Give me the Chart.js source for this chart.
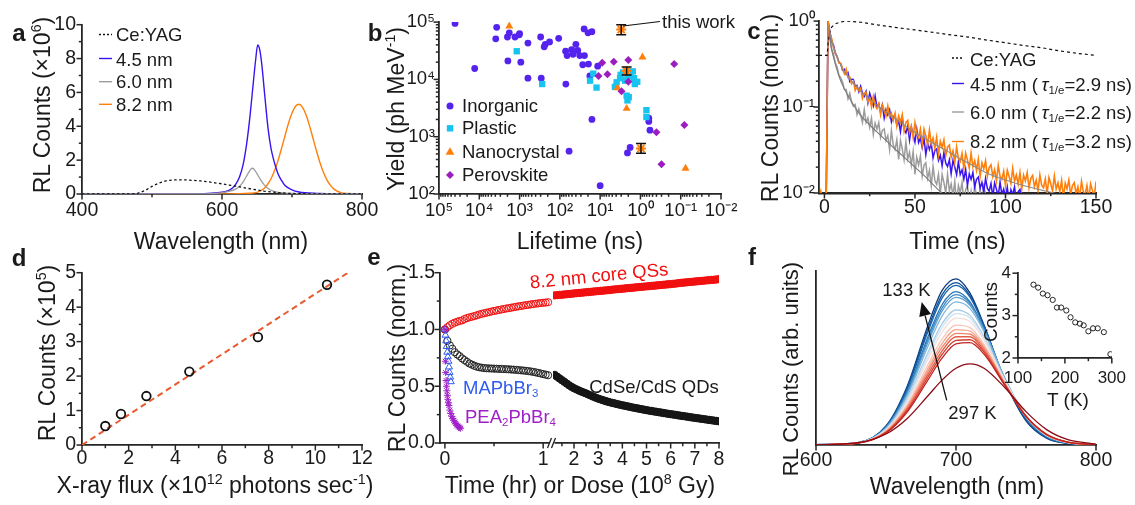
<!DOCTYPE html>
<html>
<head>
<meta charset="utf-8">
<title>Scintillation figure</title>
<script src="https://cdn.jsdelivr.net/npm/chart.js@4.4.1/dist/chart.umd.min.js"></script>
<style>
  html, body { margin:0; padding:0; background:#fff; }
  #fig { position:relative; width:1135px; height:505px; overflow:hidden;
         font-family:"Liberation Sans", Arial, Helvetica, sans-serif; color:#1a1a1a; background:#fff; }
  #fig canvas { position:absolute; }
  .t { position:absolute; white-space:nowrap; line-height:1; transform:translate(-50%,-50%); }
  .tl { transform:translate(0,-50%); }
  .rot { transform:translate(-50%,-50%) rotate(-90deg); }
  .t sup { font-size:0.62em; vertical-align:0.62em; line-height:0; }
  .t sub { font-size:0.62em; vertical-align:-0.3em; line-height:0; }
  .L { font-weight:bold; }
  #deco { position:absolute; left:0; top:0; }
</style>
</head>
<body>
<div id="fig"></div>
<script>
// ===================== DATA =====================
// ---- Panel a : RL spectra (counts x1e6) ----
const aWlYag    = [400,470,480,490,500,510,520,530,540,550,560,570,580,590,600,610,620,630,640,650,660,670,680,690,700,720,740,800];
const aYag      = [0,0,0.05,0.2,0.45,0.65,0.78,0.83,0.84,0.83,0.8,0.77,0.72,0.66,0.6,0.53,0.46,0.38,0.31,0.24,0.17,0.12,0.08,0.05,0.03,0.01,0,0];
const aWlBlue   = [400,560,580,600,610,615,620,625,630,635,640,645,648,651,654,657,660,663,666,670,673,676,680,685,690,700,710,720,740,760,800];
const aBlue     = [0,0,0.03,0.1,0.22,0.35,0.6,1.0,1.7,2.9,4.6,6.7,7.9,8.8,8.5,7.6,6.3,5.0,3.8,2.7,2.15,1.7,1.2,0.8,0.5,0.25,0.12,0.07,0.03,0.01,0];
const aWlGray   = [400,560,590,610,620,625,630,635,640,643,646,650,655,660,665,670,680,700,730,800];
const aGray     = [0,0,0.03,0.15,0.3,0.45,0.7,1.05,1.4,1.52,1.45,1.2,0.85,0.55,0.35,0.22,0.1,0.03,0,0];
const aWlOrange = [400,600,640,650,660,665,670,675,680,685,690,695,700,705,710,715,720,725,730,735,740,745,750,755,760,770,780,800];
const aOrange   = [0,0,0.04,0.1,0.33,0.56,0.9,1.37,1.97,2.69,3.44,4.18,4.78,5.18,5.3,5.12,4.68,4.04,3.29,2.54,1.85,1.27,0.82,0.51,0.29,0.08,0.03,0.01];
const aXTicks = [400,600,800], aXLabels = ['400','600','800'];
const aYTicks = [0,2,4,6,8,10], aYLabels = ['0','2','4','6','8','10'];

// ---- Panel b : light yield vs lifetime ----
const bInorgLife  = [40000,13000,3700,3900,2000,1800,1950,1300,1020,1000,930,620,620,300,290,230,245,180,107,71,72,66,59,51,47,40,36,32,25,24.5,27,19.5,20,16,18,16,11.5,10,2.1,1.8,0.62,0.62,0.58];
const bInorgYield = [95000,15500,81000,51000,55000,65000,21000,55000,60000,63000,20000,43000,10500,55000,10500,41000,37000,45000,52000,8300,31000,26000,560,33000,27500,41000,32000,26000,76000,26000,18000,18500,65000,68000,11500,2000,17000,140,520,650,2100,1850,1300];
const bPlastLife  = [1175,275,17.8,14.8,12.3,4.3,3.2,3.1,2.7,2.4,2.1,1.8,1.55,1.45,1.38,1.2,2.2,1.95,2.1,0.71,0.71,3.9];
const bPlastYield = [31000,8300,9500,12600,7200,7400,10500,12000,13200,9500,11000,11500,13800,10500,8300,9100,5200,4900,4300,2900,2200,8900];
const bNanoLife   = [1800,3.7,2.2,0.89,0.076];
const bNanoYield  = [85000,7100,3100,24500,280];
const bPeroLife   = [8.9,11,6.6,4.6,2.95,2.0,2.0,0.4,0.3,0.145,0.081];
const bPeroYield  = [19500,11500,12300,20400,6200,21900,9100,1200,330,18600,1600];
const bWorkLife   = [3.0,2.2,0.97];
const bWorkYield  = [74000,14000,624];
const bWorkLo     = [60000,11900,513];
const bWorkHi     = [90000,16500,760];
const bXTicks = [1e5,1e4,1e3,1e2,1e1,1e0,1e-1,1e-2];
const bXLabels = ['10\u2075','10\u2074','10\u00b3','10\u00b2','10\u00b9','10\u2070','10\u207b\u00b9','10\u207b\u00b2'];
const bYTicks = [1e2,1e3,1e4,1e5];
const bYLabels = ['10\u00b2','10\u00b3','10\u2074','10\u2075'];

// ---- Panel c : RL decay (normalised) ----
const tC = [-4,-3,-2,-1,0,1,2,3,4,5,6,7,8,9,10,11,12,13,14,15,16,17,18,19,20,
  21,22,23,24,25,26,27,28,29,30,31,32,33,34,35,36,37,38,39,40,41,42,43,44,45,46,47,48,49,50,
  51,52,53,54,55,56,57,58,59,60,61,62,63,64,65,66,67,68,69,70,71,72,73,74,75,76,77,78,79,80,
  81,82,83,84,85,86,87,88,89,90,91,92,93,94,95,96,97,98,99,100,101,102,103,104,105,106,107,108,109,110,
  111,112,113,114,115,116,117,118,119,120,121,122,123,124,125,126,127,128,129,130,131,132,133,134,135,136,137,138,139,140,
  141,142,143,144,145,146,147,148,149,150];
const cOrange = [0.0115,0.0085,0.0105,0.0085,0.009,0.009,
  1.0,0.723,0.626,0.495,0.421,0.389,0.326,0.321,0.281,
  0.244,0.277,0.221,0.224,0.187,0.200,0.156,0.174,0.156,0.165,
  0.126,0.145,0.148,0.115,0.127,0.100,0.133,0.104,0.0957,0.110,
  0.0815,0.106,0.092,0.078,0.103,0.0768,0.0851,0.0699,0.0846,0.0602,
  0.0788,0.0667,0.0817,0.0527,0.0661,0.0699,0.0503,0.0601,0.0441,0.0658,
  0.0491,0.0445,0.0555,0.0367,0.0551,0.046,0.0364,0.054,0.0374,0.0435,
  0.0334,0.0447,0.028,0.04,0.0338,0.0415,0.0272,0.0341,0.0361,0.026,
  0.0308,0.0228,0.0343,0.0253,0.0231,0.0288,0.0193,0.029,0.0241,0.0195,
  0.0291,0.0202,0.0237,0.0183,0.0247,0.0156,0.0224,0.0191,0.0237,0.0157,
  0.0198,0.0213,0.0155,0.0186,0.0138,0.021,0.0156,0.0144,0.0179,0.0121,
  0.0184,0.0156,0.0129,0.0194,0.0137,0.0162,0.0127,0.0173,0.0111,0.0161,
  0.0138,0.0173,0.0115,0.0148,0.016,0.0118,0.0141,0.0107,0.0163,0.0123,
  0.0115,0.0145,0.0099,0.0151,0.0128,0.0105,0.0158,0.0111,0.0132,0.0103,
  0.014,0.0089,0.013,0.0112,0.0142,0.0095,0.0122,0.0132,0.0098,0.0118,
  0.0089,0.0137,0.0104,0.0097,0.0122,0.0084,0.0128,0.0108,0.009,0.0136];
const cBlue = [0.0108,0.0085,0.0095,0.0085,0.009,0.009,
  1.0,0.753,0.583,0.526,0.423,0.386,0.331,0.32,0.268,
  0.275,0.241,0.253,0.198,0.211,0.21,0.174,0.179,0.151,0.175,
  0.145,0.133,0.152,0.112,0.145,0.124,0.104,0.135,0.1,0.109,
  0.0878,0.106,0.0742,0.0934,0.081,0.0928,0.0671,0.0776,0.0795,0.0615,
  0.0688,0.0517,0.0738,0.0551,0.05,0.0599,0.0412,0.0584,0.0485,0.0391,
  0.0552,0.0386,0.0436,0.0338,0.0432,0.0279,0.0378,0.032,0.038,0.0256,
  0.0312,0.0325,0.0239,0.0275,0.0207,0.0296,0.0222,0.0203,0.0243,0.0168,
  0.024,0.02,0.0163,0.0232,0.0164,0.0186,0.0145,0.0188,0.0122,0.0167,
  0.0144,0.0173,0.0118,0.0144,0.0153,0.0114,0.0133,0.0102,0.0148,0.0113,
  0.0105,0.0129,0.009,0.0131,0.0111,0.0092,0.0134,0.0096,0.0111,0.0089,
  0.0117,0.0078,0.0109,0.0096,0.0118,0.0081,0.0103,0.011,0.0084,0.0101];
const cGray = [0.009,0.009,0.009,0.009,0.009,0.009,
  1.0,0.671,0.478,0.408,0.328,0.291,0.237,0.218,0.196,
  0.16,0.16,0.125,0.145,0.114,0.102,0.107,0.0818,0.0953,0.081,
  0.0662,0.0932,0.0658,0.0745,0.0579,0.0742,0.048,0.0649,0.0553,0.066,
  0.0444,0.0536,0.0558,0.0408,0.0466,0.0319,0.0534,0.0363,0.0321,0.0417,
  0.0246,0.0411,0.0324,0.0243,0.0396,0.0248,0.0298,0.0211,0.0304,0.0165,
  0.0261,0.0211,0.027,0.0157,0.021,0.0225,0.0148,0.0183,0.0122,0.0204,
  0.014,0.0126,0.0165,0.0098,0.0164,0.0132,0.01,0.0165,0.0105,0.0128,
  0.0092,0.0136,0.0075,0.0122,0.0101,0.0133,0.0079,0.0109,0.0121,0.0082,
  0.0105,0.0073,0.0127,0.009,0.0083,0.0112,0.0068,0.0119,0.0097,0.0076];
const cFitT  = [2.5,3,5,8,10,15,20,25,30,40,50,60,70,75,80,90,100,110,120,125,130];
const cFitO  = [0.9,0.75,0.5,0.34,0.28,0.2,0.153,0.124,0.101,0.071,0.051,0.038,0.029,0.025,0.022,0.017,0.0142,0.0122,0.0108,0.0102,0.0096];
const cFitGT = [2.5,3,5,8,10,15,20,25,30,35,40,45,50,55,60,65,70];
const cFitG  = [0.85,0.62,0.38,0.23,0.18,0.115,0.08,0.062,0.049,0.039,0.031,0.025,0.02,0.016,0.0125,0.0099,0.008];
const cYagT  = [-3,1.5,2,3,4,6,9,13,20,30,40,50,60,70,80,90,100,110,120,130,140,150];
const cYag   = [0.4,0.4,0.55,0.75,0.85,0.93,0.98,1.0,0.97,0.9,0.84,0.79,0.74,0.69,0.65,0.6,0.56,0.52,0.49,0.45,0.42,0.40];
const cXTicks = [0,50,100,150], cXLabels = ['0','50','100','150'];
const cYTicks = [0.01,0.1,1], cYLabels = ['10\u207b\u00b2','10\u207b\u00b9','10\u2070'];

// ---- Panel d : flux linearity ----
const dFlux   = [1.0,1.67,2.76,4.6,7.54,10.5];
const dCounts = [0.55,0.9,1.42,2.13,3.13,4.65];
const dFitX   = [0,11.4];
const dFitY   = [0,5.0];
const dXTicks = [0,2,4,6,8,10,12], dXLabels = ['0','2','4','6','8','10','12'];
const dYTicks = [0,1,2,3,4,5], dYLabels = ['0','1','2','3','4','5'];

// ---- Panel e : stability ----
const eTimeL  = [0,0.025,0.05,0.075,0.1,0.125,0.15,0.175,0.2,0.225,0.25,0.275,0.3,0.325,0.35,0.375,0.4,0.425,0.45,0.475,0.5,0.525,0.55,0.575,0.6,0.625,0.65,0.675,0.7,0.725,0.75,0.775,0.8,0.825,0.85,0.875,0.9,0.925,0.95,0.975,1.0,1.025,1.05];
const eRedL   = [1.0,1.02,1.037,1.05,1.06,1.068,1.075,1.08,1.092,1.1,1.107,1.112,1.118,1.125,1.132,1.138,1.143,1.148,1.153,1.158,1.163,1.167,1.172,1.176,1.18,1.185,1.188,1.192,1.196,1.2,1.204,1.207,1.211,1.214,1.217,1.221,1.224,1.227,1.23,1.233,1.235,1.237,1.24];
const eBlackL = [1.0,0.9,0.86,0.83,0.8,0.78,0.765,0.745,0.73,0.715,0.7,0.69,0.68,0.672,0.667,0.663,0.66,0.658,0.657,0.656,0.655,0.654,0.653,0.652,0.651,0.65,0.649,0.647,0.646,0.644,0.642,0.64,0.638,0.636,0.633,0.63,0.626,0.622,0.617,0.612,0.607,0.602,0.597];
const eMapT   = [0,0.006,0.012,0.018,0.024,0.03,0.036,0.042,0.048,0.054,0.06];
const eMap    = [1.0,0.95,0.9,0.85,0.8,0.76,0.72,0.67,0.62,0.58,0.54];
const ePeaT   = [0,0.004,0.008,0.012,0.016,0.02,0.025,0.03,0.035,0.04,0.05,0.06,0.07,0.08,0.09,0.1,0.11,0.12,0.13,0.14,0.15,0.16];
const ePea    = [1.0,0.72,0.62,0.55,0.5,0.46,0.42,0.385,0.355,0.33,0.29,0.26,0.235,0.215,0.2,0.185,0.172,0.16,0.15,0.142,0.135,0.13];
const eDose   = [1.2,1.3,1.4,1.5,1.6,1.7,1.8,1.9,2.0,2.1,2.2,2.3,2.4,2.5,2.6,2.7,2.8,2.9,3.0,3.1,3.2,3.3,3.4,3.5,3.6,3.7,3.8,3.9,4.0,
  4.1,4.2,4.3,4.4,4.5,4.6,4.7,4.8,4.9,5.0,5.1,5.2,5.3,5.4,5.5,5.6,5.7,5.8,5.9,6.0,6.1,6.2,6.3,6.4,6.5,6.6,6.7,6.8,6.9,7.0,
  7.1,7.2,7.3,7.4,7.5,7.6,7.7,7.8,7.9,8.0];
const eRedR   = [1.280,1.282,1.284,1.286,1.288,1.290,1.292,1.294,1.297,1.299,1.301,1.303,1.305,1.307,1.309,1.311,1.313,1.315,1.317,
  1.319,1.321,1.323,1.325,1.327,1.330,1.332,1.334,1.336,1.338,1.340,1.342,1.344,1.346,1.348,1.350,1.352,1.354,1.356,1.358,
  1.360,1.362,1.364,1.366,1.368,1.370,1.372,1.374,1.376,1.378,1.380,1.382,1.385,1.388,1.390,1.392,1.394,1.396,1.398,1.400,
  1.402,1.404,1.406,1.408,1.410,1.412,1.414,1.416,1.418,1.420];
const eBlackR = [0.590,0.575,0.560,0.545,0.530,0.515,0.500,0.487,0.475,0.465,0.455,0.446,0.438,0.430,0.420,0.411,0.402,0.393,0.385,
  0.378,0.371,0.364,0.358,0.352,0.347,0.342,0.337,0.332,0.327,0.323,0.318,0.314,0.309,0.305,0.301,0.297,0.293,0.289,0.285,
  0.281,0.278,0.274,0.271,0.267,0.264,0.260,0.257,0.253,0.250,0.247,0.244,0.240,0.237,0.234,0.231,0.228,0.224,0.221,0.218,
  0.215,0.212,0.209,0.206,0.203,0.200,0.197,0.194,0.191,0.188];
const eYTicks = [0,0.5,1,1.5], eYLabels = ['0.0','0.5','1.0','1.5'];
const eXTicksL = [0,1], eXLabelsL = ['0','1'];
const eXTicksR = [2,3,4,5,6,7,8], eXLabelsR = ['2','3','4','5','6','7','8'];

// ---- Panel f : temperature-dependent spectra ----
const fWl = [600,630,650,665,680,690,700,710,720,735,750,765,780,800];
const fSpectra = [
  [0.002,0.013,0.109,0.335,0.689,0.887,0.955,0.873,0.690,0.366,0.139,0.038,0.010,0.001],
  [0.002,0.013,0.107,0.326,0.668,0.863,0.933,0.859,0.685,0.370,0.145,0.041,0.010,0.001],
  [0.002,0.0135,0.105,0.319,0.652,0.844,0.917,0.850,0.683,0.376,0.151,0.044,0.011,0.001],
  [0.002,0.013,0.101,0.304,0.622,0.806,0.881,0.822,0.667,0.373,0.153,0.046,0.012,0.001],
  [0.002,0.013,0.100,0.297,0.606,0.787,0.864,0.813,0.664,0.377,0.158,0.049,0.013,0.001],
  [0.002,0.013,0.098,0.290,0.590,0.769,0.848,0.803,0.662,0.382,0.162,0.051,0.013,0.001],
  [0.002,0.013,0.095,0.280,0.568,0.741,0.822,0.784,0.651,0.381,0.165,0.053,0.014,0.001],
  [0.002,0.013,0.090,0.263,0.532,0.696,0.776,0.745,0.624,0.370,0.163,0.053,0.014,0.0015],
  [0.002,0.013,0.088,0.254,0.514,0.674,0.755,0.730,0.616,0.370,0.166,0.055,0.015,0.0016],
  [0.002,0.0126,0.085,0.244,0.493,0.648,0.729,0.710,0.604,0.368,0.167,0.056,0.015,0.0016],
  [0.0015,0.012,0.081,0.229,0.462,0.608,0.689,0.675,0.578,0.357,0.164,0.056,0.015,0.0016],
  [0.0014,0.012,0.078,0.220,0.441,0.583,0.663,0.654,0.565,0.353,0.164,0.057,0.015,0.0017],
  [0.0013,0.012,0.076,0.212,0.424,0.561,0.642,0.638,0.555,0.350,0.165,0.058,0.015,0.0017],
  [0.0013,0.0116,0.073,0.204,0.407,0.540,0.622,0.622,0.544,0.348,0.165,0.058,0.016,0.0017],
  [0.0012,0.0115,0.071,0.196,0.391,0.520,0.601,0.605,0.534,0.345,0.166,0.059,0.016,0.0018],
  [0.0012,0.0113,0.069,0.188,0.374,0.499,0.581,0.588,0.522,0.341,0.165,0.060,0.016,0.0018],
  [0.001,0.0133,0.063,0.151,0.283,0.373,0.441,0.466,0.441,0.329,0.192,0.087,0.031,0.005]];
const fColors = ['#0b3a7e','#104f95','#1763ab','#2474b7','#3c89c2','#5b9fcf','#80b6dd','#a7cde7','#cfe2ef','#f1dede',
  '#f8c6b6','#f5a58d','#ef8268','#e35e48','#d43e2e','#c02420','#8a0c16'];
const fXTicks = [600,700,800], fXLabels = ['600','700','800'];
const fInsetT = [133,143,153,163,174,183,192,203,212,222,232,240,250,260,270,283,297];
const fInsetCounts = [3.73,3.66,3.52,3.48,3.37,3.19,3.19,3.12,2.96,2.84,2.81,2.77,2.63,2.70,2.70,2.61,2.09];
const fInXTicks = [100,200,300], fInXLabels = ['100','200','300'];
const fInYTicks = [2,3,4], fInYLabels = ['2','3','4'];

// ===================== HELPERS =====================
const FONT = '"Liberation Sans", Arial, Helvetica, sans-serif';
const INK = '#1a1a1a', AXIS = '#262626';
const BLUE = '#3a14f0', ORANGE = '#ff7f0a', GRAY = '#9c9c9c';
Chart.defaults.font.family = FONT;
Chart.defaults.color = INK;
const fig = document.getElementById('fig');
const xy = (xs, ys) => ys.map((y, i) => ({x: xs[i], y}));
const PADS = {PL:70, PT:14, PR:26, PB:44};

function mk(area, p) {
  const [l, t, r, b] = area;
  const c = document.createElement('canvas');
  const w = r - l + p.PL + p.PR, h = b - t + p.PT + p.PB;
  c.width = w; c.height = h;
  Object.assign(c.style, {left:(l - p.PL) + 'px', top:(t - p.PT) + 'px', width:w + 'px', height:h + 'px'});
  fig.appendChild(c);
  return c;
}
function sc(o) {
  return {
    type: o.type || 'linear', min: o.min, max: o.max, reverse: !!o.reverse, bounds: 'data', display: true,
    afterFit: s => { if (o.horiz) s.height = o.fit; else s.width = o.fit; },
    afterBuildTicks: s => { s.ticks = (o.ticks || []).map(v => ({value: v})); },
    ticks: { display: !!o.labels, autoSkip: false, maxRotation: 0, minRotation: 0, padding: o.pad ?? 5,
             font: {family: FONT, size: o.size || 19.5}, color: INK,
             callback: (v, i) => (o.labels ? o.labels[i] : '') },
    grid: { display: false, drawTicks: false },
    border: { display: o.border !== false, color: AXIS, width: o.bw || 1.8 }
  };
}
function tickPlug(spec) {
  return { id: 'tk', afterDraw(chart) {
    const ctx = chart.ctx, ca = chart.chartArea;
    ctx.save(); ctx.strokeStyle = AXIS; ctx.lineWidth = 1.5;
    for (const id of Object.keys(spec)) {
      const s = chart.scales[id], d = spec[id], horiz = s.isHorizontal();
      const draw = (v, len) => {
        const p = s.getPixelForValue(v);
        ctx.beginPath();
        if (horiz) { ctx.moveTo(p, ca.bottom); ctx.lineTo(p, ca.bottom + len); }
        else { ctx.moveTo(ca.left, p); ctx.lineTo(ca.left - len, p); }
        ctx.stroke();
      };
      (d.major || []).forEach(v => draw(v, d.ml || 5.5));
      (d.minor || []).forEach(v => draw(v, d.nl || 3.2));
    }
    ctx.restore();
  }};
}
function chart(area, p, datasets, xs, ys, spec, extraPlugins) {
  const cv = mk(area, p);
  return new Chart(cv, {
    type: 'line',
    data: { datasets },
    options: {
      responsive: false, animation: false, devicePixelRatio: 1, events: [],
      layout: { padding: {left: 0, top: p.PT, right: p.PR, bottom: 0} },
      plugins: { legend: {display: false}, tooltip: {enabled: false} },
      elements: { point: {radius: 0}, line: {borderWidth: 1.4, fill: false, tension: 0} },
      scales: { x: sc(Object.assign({horiz: true, fit: p.PB}, xs)),
                y: sc(Object.assign({horiz: false, fit: p.PL}, ys)) }
    },
    plugins: [tickPlug(spec)].concat(extraPlugins || [])
  });
}
function logMinor(lo, hi) { const out = []; for (let e = lo; e < hi; e++) for (let k = 2; k <= 9; k++) out.push(k * Math.pow(10, e)); return out; }

// ===================== PANEL a =====================
chart([82, 21, 362, 194], PADS, [
  {data: xy(aWlYag, aYag), borderColor: '#111', borderWidth: 1.3, borderDash: [2.5, 2.5]},
  {data: xy(aWlGray, aGray), borderColor: GRAY, borderWidth: 1.3, cubicInterpolationMode: 'monotone'},
  {data: xy(aWlBlue, aBlue), borderColor: BLUE, borderWidth: 1.4, cubicInterpolationMode: 'monotone'},
  {data: xy(aWlOrange, aOrange), borderColor: ORANGE, borderWidth: 1.4, cubicInterpolationMode: 'monotone'}
], {min: 400, max: 800, ticks: aXTicks, labels: aXLabels, pad: 5},
   {min: 0, max: 10, ticks: aYTicks, labels: aYLabels, pad: 6},
   {x: {major: aXTicks, minor: [500, 700]}, y: {major: aYTicks, minor: [1, 3, 5, 7, 9]}});

// ===================== PANEL b =====================
const errPlug = { id: 'eb', afterDatasetsDraw(ch) {
  const ctx = ch.ctx, xs = ch.scales.x, ys = ch.scales.y;
  ctx.save(); ctx.strokeStyle = '#111'; ctx.lineWidth = 1.4;
  bWorkLife.forEach((L, i) => {
    const x = xs.getPixelForValue(L), y1 = ys.getPixelForValue(bWorkLo[i]), y2 = ys.getPixelForValue(bWorkHi[i]);
    ctx.beginPath(); ctx.moveTo(x, y1); ctx.lineTo(x, y2);
    ctx.moveTo(x - 5, y1); ctx.lineTo(x + 5, y1); ctx.moveTo(x - 5, y2); ctx.lineTo(x + 5, y2);
    ctx.stroke();
  });
  ctx.restore();
}};
chart([439, 21, 721, 194], PADS, [
  {data: xy(bWorkLife, bWorkYield), showLine: false, pointStyle: 'star', pointRadius: 5, pointBorderColor: ORANGE, pointBorderWidth: 2},
  {data: xy(bPeroLife, bPeroYield), showLine: false, pointStyle: 'rectRot', pointRadius: 4, pointBackgroundColor: '#9b1dc0', pointBorderColor: '#9b1dc0', pointBorderWidth: 0},
  {data: xy(bNanoLife, bNanoYield), showLine: false, pointStyle: 'triangle', pointRadius: 4.6, pointBackgroundColor: ORANGE, pointBorderColor: ORANGE, pointBorderWidth: 0},
  {data: xy(bPlastLife, bPlastYield), showLine: false, pointStyle: 'rect', pointRadius: 4.5, pointBackgroundColor: '#17c3ef', pointBorderColor: '#17c3ef', pointBorderWidth: 0},
  {data: xy(bInorgLife, bInorgYield), showLine: false, pointStyle: 'circle', pointRadius: 3.4, pointBackgroundColor: '#5523ee', pointBorderColor: '#5523ee', pointBorderWidth: 0}
], {type: 'logarithmic', min: 1e-2, max: 1e5, reverse: true, ticks: bXTicks, labels: bXLabels, pad: 6, size: 18.5},
   {type: 'logarithmic', min: 1e2, max: 1e5, ticks: bYTicks, labels: bYLabels, pad: 4, size: 18.5},
   {x: {major: bXTicks, minor: logMinor(-2, 5), nl: 2.8}, y: {major: bYTicks, minor: logMinor(2, 5)}}, [errPlug]);

// ===================== PANEL c =====================
chart([819, 20, 1096, 193], PADS, [
  {data: xy(cFitT, cFitO), borderColor: '#8c8c8c', borderWidth: 1.1, cubicInterpolationMode: 'monotone'},
  {data: xy(cFitGT, cFitG), borderColor: '#7a7a7a', borderWidth: 1.1, cubicInterpolationMode: 'monotone'},
  {data: xy(cYagT, cYag), borderColor: '#111', borderWidth: 1.2, borderDash: [3, 3]},
  {data: xy(tC, cOrange), borderColor: ORANGE, borderWidth: 1.6},
  {data: xy(tC, cBlue), borderColor: BLUE, borderWidth: 1.5},
  {data: xy(tC, cGray), borderColor: GRAY, borderWidth: 1.5}
], {min: -3, max: 150, ticks: cXTicks, labels: cXLabels, pad: 3, bw: 2.6},
   {type: 'logarithmic', min: 0.01, max: 1, ticks: cYTicks, labels: cYLabels, pad: 4, size: 18.5},
   {x: {major: cXTicks, minor: [25, 75, 125]}, y: {major: cYTicks, minor: logMinor(-2, 0)}});

// ===================== PANEL d =====================
chart([82, 269, 362, 445], PADS, [
  {data: xy(dFlux, dCounts), showLine: false, pointRadius: 4.3, pointBorderWidth: 1.8, pointBorderColor: '#111', pointBackgroundColor: 'rgba(0,0,0,0)'},
  {data: xy(dFitX, dFitY), borderColor: '#ea5a30', borderWidth: 2, borderDash: [6, 4]}
], {min: 0, max: 12, ticks: dXTicks, labels: dXLabels, pad: 2},
   {min: 0, max: 5, ticks: dYTicks, labels: dYLabels, pad: 6},
   {x: {major: dXTicks, minor: [1, 3, 5, 7, 9, 11]}, y: {major: dYTicks, minor: [0.5, 1.5, 2.5, 3.5, 4.5]}});

// ===================== PANEL e (broken axis: two scales) =====================
chart([440, 270, 553, 443], PADS, [
  {data: xy(ePeaT, ePea), showLine: false, pointStyle: 'star', pointRadius: 3.5, pointBorderColor: '#a020c8', pointBorderWidth: 1},
  {data: xy(eMapT, eMap), showLine: false, pointStyle: 'triangle', pointRadius: 4, pointBorderColor: '#2e5bf0', pointBackgroundColor: 'rgba(0,0,0,0)', pointBorderWidth: 1},
  {data: xy(eTimeL, eRedL), showLine: false, pointRadius: 3.6, pointBorderColor: '#f01010', pointBackgroundColor: 'rgba(0,0,0,0)', pointBorderWidth: 1},
  {data: xy(eTimeL, eBlackL), showLine: false, pointRadius: 3.6, pointBorderColor: '#222', pointBackgroundColor: 'rgba(0,0,0,0)', pointBorderWidth: 1}
], {min: -0.05, max: 1.1, ticks: eXTicksL, labels: eXLabelsL, pad: 5},
   {min: 0, max: 1.5, ticks: eYTicks, labels: eYLabels, pad: 5},
   {x: {major: eXTicksL, minor: [0.5]}, y: {major: eYTicks, minor: [0.25, 0.75, 1.25]}});
chart([553, 270, 719, 443], PADS, [
  {data: xy(eDose, eRedR), showLine: false, pointRadius: 3.7, pointBorderColor: '#f01010', pointBackgroundColor: '#f01010', pointBorderWidth: 1},
  {data: xy(eDose, eBlackR), showLine: false, pointRadius: 3.7, pointBorderColor: '#161616', pointBackgroundColor: '#161616', pointBorderWidth: 1}
], {min: 1.13, max: 8, ticks: eXTicksR, labels: eXLabelsR, pad: 5},
   {min: 0, max: 1.5, ticks: [], labels: null, border: false},
   {x: {major: eXTicksR, minor: [1.5, 2.5, 3.5, 4.5, 5.5, 6.5, 7.5]}});

// ===================== PANEL f =====================
chart([816, 271, 1096, 445], PADS,
  fSpectra.map((s, i) => ({data: xy(fWl, s), borderColor: fColors[i], borderWidth: 1.3, cubicInterpolationMode: 'monotone'})).reverse(),
  {min: 600, max: 800, ticks: fXTicks, labels: fXLabels, pad: 4},
  {min: 0, max: 1, ticks: [], labels: null},
  {x: {major: fXTicks, minor: [650, 750]}});
const PIN = {PL:40, PT:10, PR:14, PB:34};
chart([1018, 266, 1122, 358], PIN, [
  {data: xy(fInsetT, fInsetCounts), showLine: false, pointRadius: 2.6, pointBorderWidth: 1, pointBorderColor: '#222', pointBackgroundColor: 'rgba(0,0,0,0)'}
], {min: 100, max: 300, ticks: fInXTicks, labels: fInXLabels, pad: 10, size: 17},
   {min: 2, max: 4, ticks: fInYTicks, labels: fInYLabels, pad: 7, size: 17},
   {x: {major: fInXTicks, minor: [150, 250]}, y: {major: fInYTicks, minor: [2.5, 3.5]}});

// ===================== DECORATION (SVG) =====================
const NS = 'http://www.w3.org/2000/svg';
const svg = document.createElementNS(NS, 'svg');
svg.setAttribute('id', 'deco'); svg.setAttribute('width', 1135); svg.setAttribute('height', 505);
fig.appendChild(svg);
function ln(x1, y1, x2, y2, c, w, dash) {
  const e = document.createElementNS(NS, 'line');
  e.setAttribute('x1', x1); e.setAttribute('y1', y1); e.setAttribute('x2', x2); e.setAttribute('y2', y2);
  e.setAttribute('stroke', c); e.setAttribute('stroke-width', w); if (dash) e.setAttribute('stroke-dasharray', dash);
  svg.appendChild(e);
}
function shape(tag, attrs) {
  const e = document.createElementNS(NS, tag);
  for (const k in attrs) e.setAttribute(k, attrs[k]);
  svg.appendChild(e);
}
// legend a
ln(99, 34.5, 112, 34.5, '#111', 1.3, '2,2');
ln(99, 58.5, 112, 58.5, BLUE, 1.4);
ln(99, 81.7, 112, 81.7, GRAY, 1.4);
ln(99, 104.3, 112, 104.3, ORANGE, 1.4);
// legend b symbols
shape('circle', {cx: 450, cy: 106, r: 3.5, fill: '#5523ee'});
shape('rect', {x: 446.8, y: 125.1, width: 6.4, height: 6.4, fill: '#17c3ef'});
shape('polygon', {points: '450,147.3 454.4,154.8 445.6,154.8', fill: ORANGE});
shape('polygon', {points: '450,171 454,175 450,179 446,175', fill: '#9b1dc0'});
// leader line "this work"
ln(623, 26, 660, 21.5, '#111', 1.1);
// legend c
ln(952, 58, 964, 58, '#111', 1.3, '2,2');
ln(952, 83.5, 964, 83.5, BLUE, 1.4);
ln(952, 112, 964, 112, GRAY, 1.4);
ln(952, 141.5, 964, 141.5, ORANGE, 1.4);
// axis break e
shape('rect', {x: 549.5, y: 440, width: 5, height: 5, fill: '#fff'});
ln(547.5, 448, 551.5, 438, '#222', 1.3);
ln(551.5, 448, 555.5, 438, '#222', 1.3);
// arrow f
ln(946.7, 400.3, 925.1, 315.6, '#111', 1.3);
shape('polygon', {points: '921.7,302 931,314.1 919.3,317.1', fill: '#111'});

// ===================== TEXT =====================
function T(html, x, y, size, cls, extra) {
  const d = document.createElement('div');
  d.className = 't ' + (cls || '');
  d.innerHTML = html;
  d.style.left = x + 'px'; d.style.top = y + 'px'; d.style.fontSize = size + 'px';
  if (extra) Object.assign(d.style, extra);
  fig.appendChild(d);
}
// panel letters
T('a', 19, 32.5, 24, 'L'); T('b', 375, 33, 24, 'L'); T('c', 754, 30.5, 24, 'L');
T('d', 19, 258, 24, 'L'); T('e', 374, 256.5, 24, 'L'); T('f', 752, 256.5, 24, 'L');
// axis titles
T('RL Counts (\u00d710<sup>6</sup>)', 41.5, 105, 23, 'rot');
T('Wavelength (nm)', 221, 240.5, 23);
T('Yield (ph MeV<sup>-1</sup>)', 395.5, 109, 23, 'rot');
T('Lifetime (ns)', 580, 240.5, 23);
T('RL Counts (norm.)', 770, 107.5, 23, 'rot');
T('Time (ns)', 957.5, 240.5, 23);
T('RL Counts (\u00d710<sup>5</sup>)', 47, 353, 23, 'rot');
T('X-ray flux (\u00d710<sup>12</sup> photons sec<sup>-1</sup>)', 215, 485, 23);
T('RL Counts (norm.)', 397, 358, 23, 'rot');
T('Time (hr) or Dose (10<sup>8</sup> Gy)', 580, 484.5, 23);
T('RL Counts (arb. units)', 791, 369, 22, 'rot');
T('Wavelength (nm)', 957, 486, 23);
T('Counts', 990, 311.5, 19, 'rot');
T('T (K)', 1068, 399, 19);
// legends
T('Ce:YAG', 116, 35, 18.5, 'tl'); T('4.5 nm', 116, 59.5, 18.5, 'tl');
T('6.0 nm', 116, 81.7, 18.5, 'tl'); T('8.2 nm', 116, 104.7, 18.5, 'tl');
T('Inorganic', 462, 106, 18.5, 'tl'); T('Plastic', 462, 128.3, 18.5, 'tl');
T('Nanocrystal', 462, 151.7, 18.5, 'tl'); T('Perovskite', 462, 175, 18.5, 'tl');
T('this work', 662, 21.7, 18.5, 'tl');
T('Ce:YAG', 970, 60, 18.5, 'tl');
T('4.5 nm (&thinsp;<i>\u03c4</i><sub>1/e</sub>=2.9 ns)', 970, 85, 18.5, 'tl');
T('6.0 nm (&thinsp;<i>\u03c4</i><sub>1/e</sub>=2.2 ns)', 970, 113.3, 18.5, 'tl');
T('8.2 nm (&thinsp;<i>\u03c4</i><sub>1/e</sub>=3.2 ns)', 970, 141.7, 18.5, 'tl');
// annotations
T('8.2 nm core QSs', 599, 275.5, 18.5, '', {color: '#f01010', transform: 'translate(-50%,-50%) rotate(-5.5deg)'});
T('CdSe/CdS QDs', 654, 386.5, 18.5);
T('MAPbBr<sub>3</sub>', 463, 388, 18.5, 'tl', {color: '#2e5bf0'});
T('PEA<sub>2</sub>PbBr<sub>4</sub>', 465, 416.7, 18.5, 'tl', {color: '#a020c8'});
T('133 K', 906.5, 290, 18.5);
T('297 K', 972.5, 412.5, 18.5);
</script>
</body>
</html>
